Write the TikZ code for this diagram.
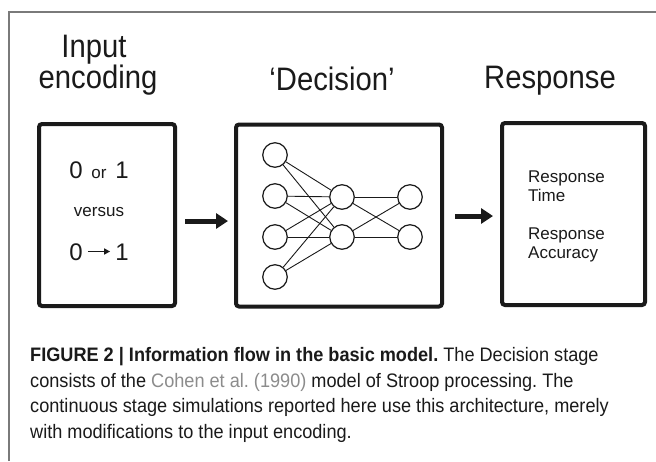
\documentclass[tikz,border=0pt]{standalone}
\usepackage{fontspec}
\setmainfont{Liberation Sans}
\newfontfamily\narrowfont[FakeStretch=0.9]{Liberation Sans}
\newfontfamily\capfont[FakeStretch=0.93]{Liberation Sans}
\usetikzlibrary{arrows.meta}
\definecolor{framegray}{HTML}{7A7A7A}
\definecolor{citegray}{HTML}{8C8C8C}
\definecolor{ink}{HTML}{1A1A1A}
\frenchspacing
\begin{document}
\begin{tikzpicture}[x=1pt,y=-1pt,
  stage/.style={draw=ink, line width=4pt, rounded corners=3pt, minimum width=#1, minimum height=182pt, inner sep=0pt},
  unit/.style={circle, draw=ink, line width=1.2pt, minimum size=24.5pt, inner sep=0pt},
  link/.style={draw=ink, line width=0.9pt},
  bigarrow/.style={draw=ink, line width=5pt, -{Triangle[length=12pt,width=15pt]}},
  thinarrow/.style={draw=ink, line width=1.6pt, -{Triangle[length=6pt,width=6pt]}, shorten <=5pt, shorten >=5pt},
  title/.style={font=\narrowfont\fontsize{32.5}{32.5}\selectfont, inner sep=0pt, anchor=base, text=ink},
  big/.style={font=\fontsize{24}{24}\selectfont, inner sep=0pt, anchor=base, text=ink},
  small/.style={font=\fontsize{17}{17}\selectfont, inner sep=0pt, anchor=base, text=ink},
  rtext/.style={font=\fontsize{17}{17}\selectfont, inner sep=0pt, anchor=base west, text=ink},
  captext/.style={font=\capfont\fontsize{19.5}{19.5}\selectfont, inner sep=0pt, anchor=base west, text=ink}]
\useasboundingbox (0,0) rectangle (656,461);
\fill[white] (0,0) rectangle (656,461);
% outer frame
\draw[framegray, line width=1.5pt] (9,461) -- (9,12) -- (656,12);
% titles
\node[title] (t1) at (94,57) {Input};
\node[title] (t2) at (98,88) {encoding};
\node[title] (t3) at (332,90) {‘Decision’};
\node[title] (t4) at (550,88) {Response};
% stage boxes
\node[stage=136pt] (in) at (107,215) {};
\node[stage=206pt] (dec) at (339,215.5) {};
\node[stage=143pt] (resp) at (573.5,214) {};
% arrows between stages
\draw[bigarrow] ([xshift=8pt,yshift=-6pt]in.east) -- ([xshift=-6pt,yshift=-5.5pt]dec.west);
\draw[bigarrow] ([xshift=11pt,yshift=-0.5pt]dec.east) -- ([xshift=-7pt,yshift=-2pt]resp.west);
% input encoding text
\node[big] (zo0) at (76,178) {0};
\node[small] (zor) at (99,178) {or};
\node[big] (zo1) at (122,178) {1};
\node[small] (vs) at (99,216) {versus};
\node[big] (za0) at (76,260) {0};
\node[big] (za1) at (122,260) {1};
\draw[thinarrow] ([yshift=8.5pt]za0.base east) -- ([yshift=8.5pt]za1.base west);
% network
\foreach \i/\y in {1/155,2/196,3/237,4/277}
  \node[unit] (a\i) at (275,\y) {};
\node[unit] (h1) at (342,197) {};
\node[unit] (h2) at (342,237) {};
\node[unit] (o1) at (410,197) {};
\node[unit] (o2) at (410,237) {};
\foreach \i in {1,...,4}
  \foreach \j in {1,2}
    \draw[link] (a\i) -- (h\j);
\foreach \i in {1,2}
  \foreach \j in {1,2}
    \draw[link] (h\i) -- (o\j);
% response text
\node[rtext] (r1) at (528,182) {Response};
\node[rtext] (r2) at (528,201) {Time};
\node[rtext] (r3) at (528,239) {Response};
\node[rtext] (r4) at (528,258) {Accuracy};
% caption
\node[captext] (c1) at (30,361) {{\bfseries FIGURE 2 | Information flow in the basic model.} The Decision stage};
\node[captext] (c2) at (30,387) {consists of the \textcolor{citegray}{Cohen et al. (1990)} model of Stroop processing. The};
\node[captext] (c3) at (30,412) {continuous stage simulations reported here use this architecture, merely};
\node[captext] (c4) at (30,438) {with modifications to the input encoding.};
\end{tikzpicture}
\end{document}
